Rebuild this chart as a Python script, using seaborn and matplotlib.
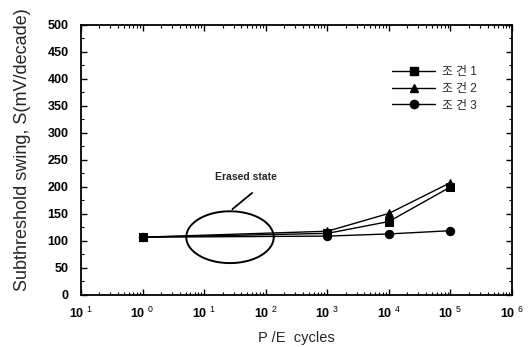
import matplotlib
matplotlib.use("Agg")
import matplotlib.pyplot as plt
import seaborn as sns
import pandas as pd
import numpy as np
from matplotlib.lines import Line2D
from matplotlib.ticker import LogLocator, NullFormatter, MultipleLocator

cycles = [1, 1e3, 1e4, 1e5]
cond1 = [107, 114, 136, 200]
cond2 = [107, 118, 151, 208]
cond3 = [107, 109, 113, 119]
series_names = ["조 건 1", "조 건 2", "조 건 3"]
xtick_pos = [1e-1, 1e0, 1e1, 1e2, 1e3, 1e4, 1e5, 1e6]
xtick_labels = ["10 $^{1}$", "10 $^{0}$", "10 $^{1}$", "10 $^{2}$", "10 $^{3}$", "10 $^{4}$", "10 $^{5}$", "10 $^{6}$"]
ytick_pos = [0, 50, 100, 150, 200, 250, 300, 350, 400, 450, 500]

sns.set_theme(style="ticks")
plt.rcParams['font.family'] = ['Liberation Sans', 'Noto Sans CJK KR', 'DejaVu Sans']
plt.rcParams['mathtext.fontset'] = 'custom'
plt.rcParams['mathtext.rm'] = 'Liberation Sans'
plt.rcParams['mathtext.it'] = 'Liberation Sans'
plt.rcParams['mathtext.bf'] = 'Liberation Sans:bold'

df = pd.DataFrame({
    "cycles": cycles * 3,
    "S": cond1 + cond2 + cond3,
    "cond": sum([[n] * len(cycles) for n in series_names], []),
})

fig = plt.figure(figsize=(5.29, 3.47), dpi=100)
ax = fig.add_axes([0.153, 0.150, 0.815, 0.778])

markers = {series_names[0]: "s", series_names[1]: "^", series_names[2]: "o"}
sns.lineplot(data=df, x="cycles", y="S", hue="cond", style="cond",
             palette=["black"] * 3, markers=markers, dashes=False,
             markersize=6, linewidth=1.0, markeredgecolor="black",
             legend=False, ax=ax)

ax.set_xscale("log")
ax.set_xlim(1e-1, 1e6)
ax.set_ylim(0, 500)
ax.set_xticks(xtick_pos)
ax.set_xticklabels(xtick_labels)
ax.xaxis.set_minor_locator(LogLocator(base=10, subs=np.arange(2, 10), numticks=20))
ax.xaxis.set_minor_formatter(NullFormatter())
ax.set_yticks(ytick_pos)
ax.yaxis.set_minor_locator(MultipleLocator(25))
ax.tick_params(which="both", direction="in", top=True, right=True, labelsize=9, colors="black")
ax.tick_params(axis="y", pad=9)
ax.tick_params(axis="x", pad=8)
ax.tick_params(which="major", length=4, width=1)
ax.tick_params(which="minor", length=2, width=0.8)
for lbl in ax.get_xticklabels() + ax.get_yticklabels():
    lbl.set_fontweight("bold")
for s in ax.spines.values():
    s.set_linewidth(1.3)
    s.set_color("black")

ax.set_xlabel("P /E  cycles", fontsize=10.5, va="center")
ax.xaxis.set_label_coords(0.5, -0.16)
ax.set_ylabel("Subthreshold swing, S(mV/decade)", fontsize=13, va="center")
ax.yaxis.set_label_coords(-0.135, 0.54)

# annotation ellipse (drawn as a parametric curve in log-x space)
t = np.linspace(0, 2 * np.pi, 200)
ex = 10 ** (1.42 + 0.71 * np.cos(t))
ey = 107 + 48 * np.sin(t)
ax.plot(ex, ey, color="black", lw=1.4)
ax.plot([10 ** 1.46, 10 ** 1.78], [159, 189], color="black", lw=1.3)
ax.text(10 ** 1.17, 218, "Erased state", fontsize=7.5, fontweight="bold", ha="left", va="center")

handles = [Line2D([], [], color="black", marker=markers[n], markersize=6, lw=1.0) for n in series_names]
ax.legend(handles, series_names, loc="upper left", bbox_to_anchor=(0.703, 0.878), frameon=False,
          fontsize=8.5, handlelength=3.6, labelspacing=0.4, borderpad=0.2, handletextpad=0.6)

fig.savefig("out.png", dpi=100)
